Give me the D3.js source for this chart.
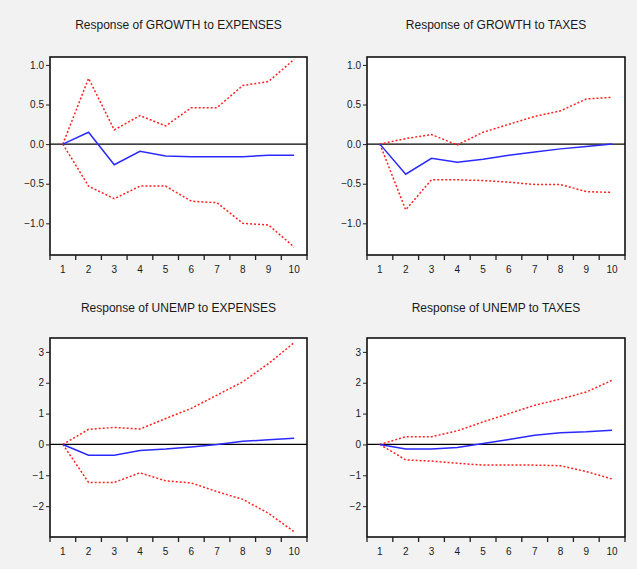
<!DOCTYPE html>
<html>
<head>
<meta charset="utf-8">
<script src="https://cdn.jsdelivr.net/npm/d3@7"></script>
<style>
  body { margin: 0; background: #f2f2f2; }
  svg { display: block; font-family: "Liberation Sans", Arial, sans-serif; }
  .title { font-size: 12px; fill: #1a1a1a; }
  .axis text { font-size: 10px; fill: #1a1a1a; }
</style>
</head>
<body>
<div id="vis"></div>
<script>
var periods = [1, 2, 3, 4, 5, 6, 7, 8, 9, 10];

var titles = [
  "Response of GROWTH to EXPENSES",
  "Response of GROWTH to TAXES",
  "Response of UNEMP to EXPENSES",
  "Response of UNEMP to TAXES"
];

// impulse responses (blue) and +/- 2 s.e. bands (red dotted)
var growthExpenses = [0, 0.15, -0.26, -0.09, -0.15, -0.16, -0.16, -0.16, -0.14, -0.14];
var growthExpensesHi = [0, 0.83, 0.18, 0.36, 0.23, 0.46, 0.46, 0.74, 0.79, 1.07];
var growthExpensesLo = [0, -0.53, -0.69, -0.53, -0.53, -0.72, -0.74, -1.0, -1.02, -1.3];

var growthTaxes = [0, -0.38, -0.18, -0.23, -0.19, -0.14, -0.10, -0.06, -0.03, 0.0];
var growthTaxesHi = [0, 0.07, 0.12, -0.01, 0.15, 0.25, 0.35, 0.42, 0.57, 0.59];
var growthTaxesLo = [0, -0.83, -0.45, -0.45, -0.46, -0.48, -0.51, -0.51, -0.60, -0.61];

var unempExpenses = [0, -0.35, -0.35, -0.2, -0.15, -0.08, 0, 0.1, 0.15, 0.2];
var unempExpensesHi = [0, 0.49, 0.55, 0.5, 0.84, 1.17, 1.6, 2.03, 2.62, 3.3];
var unempExpensesLo = [0, -1.23, -1.23, -0.92, -1.18, -1.25, -1.53, -1.78, -2.23, -2.83];

var unempTaxes = [0, -0.15, -0.15, -0.1, 0.03, 0.16, 0.3, 0.38, 0.41, 0.46];
var unempTaxesHi = [0, 0.25, 0.25, 0.44, 0.73, 1.0, 1.27, 1.47, 1.7, 2.08];
var unempTaxesLo = [0, -0.5, -0.54, -0.61, -0.67, -0.67, -0.67, -0.69, -0.88, -1.12];

var growthTicks = [-1.0, -0.5, 0.0, 0.5, 1.0];
var unempTicks = [-2, -1, 0, 1, 2, 3];

var panels = [
  {title: titles[0], mid: growthExpenses, hi: growthExpensesHi, lo: growthExpensesLo, domain: [-1.4, 1.1], ticks: growthTicks, fmt: ".1f"},
  {title: titles[1], mid: growthTaxes, hi: growthTaxesHi, lo: growthTaxesLo, domain: [-1.4, 1.1], ticks: growthTicks, fmt: ".1f"},
  {title: titles[2], mid: unempExpenses, hi: unempExpensesHi, lo: unempExpensesLo, domain: [-3.0, 3.45], ticks: unempTicks, fmt: "d"},
  {title: titles[3], mid: unempTaxes, hi: unempTaxesHi, lo: unempTaxesLo, domain: [-3.0, 3.45], ticks: unempTicks, fmt: "d"}
];

var svg = d3.select("#vis").append("svg")
  .attr("width", 637)
  .attr("height", 569);

svg.append("rect").attr("width", 637).attr("height", 569).attr("fill", "#f2f2f2");

// plot boxes
var boxes = [
  {x: 50, y: 57, w: 257, h: 198, ty: 29},
  {x: 367, y: 57, w: 258, h: 198, ty: 29},
  {x: 50, y: 338, w: 257, h: 199, ty: 312},
  {x: 367, y: 338, w: 258, h: 199, ty: 312}
];

panels.forEach(function(p, k) {
  var b = boxes[k];
  var g = svg.append("g").attr("transform", "translate(" + b.x + "," + b.y + ")");

  var x = d3.scaleBand().domain(periods).range([0, b.w]);
  var y = d3.scaleLinear().domain(p.domain).range([b.h, 0]);
  var cx = function(d, i) { return x(periods[i]) + x.bandwidth() / 2; };

  g.append("rect")
    .attr("width", b.w).attr("height", b.h)
    .attr("fill", "#fff");

  svg.append("text")
    .attr("class", "title")
    .attr("x", b.x + b.w / 2)
    .attr("y", b.ty)
    .attr("text-anchor", "middle")
    .text(p.title);

  // zero line
  g.append("line")
    .attr("x1", 0).attr("x2", b.w)
    .attr("y1", y(0)).attr("y2", y(0))
    .attr("stroke", "#000").attr("stroke-width", 1.3);

  var line = d3.line().x(cx).y(function(d) { return y(d); });

  [p.hi, p.lo].forEach(function(s) {
    g.append("path").datum(s)
      .attr("d", line)
      .attr("fill", "none")
      .attr("stroke", "#ff2020")
      .attr("stroke-width", 1.5)
      .attr("stroke-dasharray", "2,2");
  });

  g.append("path").datum(p.mid)
    .attr("d", line)
    .attr("fill", "none")
    .attr("stroke", "#2a2aff")
    .attr("stroke-width", 1.5);

  // frame
  g.append("rect")
    .attr("width", b.w).attr("height", b.h)
    .attr("fill", "none")
    .attr("stroke", "#111").attr("stroke-width", 1.6);

  // y axis
  var ya = g.append("g").attr("class", "axis")
    .call(d3.axisLeft(y).tickValues(p.ticks).tickFormat(d3.format(p.fmt)).tickSize(4).tickPadding(2));
  ya.select(".domain").remove();
  ya.selectAll("line").attr("stroke", "#222");

  // x axis: ticks on band edges, labels on centers
  var xa = g.append("g").attr("class", "axis")
    .attr("transform", "translate(0," + b.h + ")");
  xa.selectAll("line.edge")
    .data(d3.range(periods.length + 1))
    .enter().append("line")
    .attr("class", "edge")
    .attr("x1", function(i) { return i * x.step(); })
    .attr("x2", function(i) { return i * x.step(); })
    .attr("y1", 0).attr("y2", 5)
    .attr("stroke", "#222").attr("stroke-width", 1.3);
  xa.selectAll("text")
    .data(periods)
    .enter().append("text")
    .attr("x", function(d) { return x(d) + x.bandwidth() / 2; })
    .attr("y", 18)
    .attr("text-anchor", "middle")
    .text(function(d) { return d; });
});
</script>
</body>
</html>
